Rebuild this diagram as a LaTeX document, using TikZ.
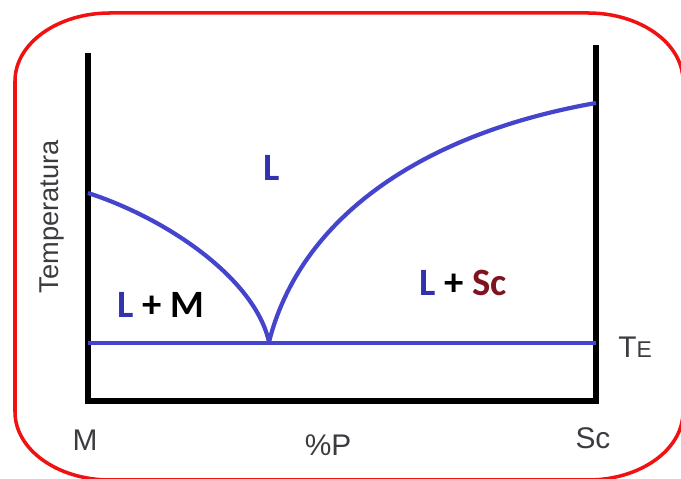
\documentclass[tikz,border=0pt]{standalone}
\usepackage{fontspec}
\setmainfont{Liberation Sans}
\newfontfamily\calibrifont{Carlito}
\usepackage{tikz}
\usetikzlibrary{positioning}
\definecolor{framered}{RGB}{240,18,18}
\definecolor{curveblue}{RGB}{68,68,205}
\definecolor{phaseblue}{RGB}{50,50,175}
\definecolor{solidred}{RGB}{128,20,30}
\definecolor{axisgray}{RGB}{60,60,64}
\tikzset{
  axis/.style={line width=3.2pt,draw=black,line join=miter},
  phaseline/.style={line width=2.4pt,draw=curveblue},
  frame/.style={line width=2pt,draw=framered},
  axlab/.style={font=\fontsize{17}{20}\selectfont,text=axisgray,inner sep=0pt},
  phaselab/.style={font=\calibrifont\bfseries\fontsize{22}{26}\selectfont,
    inner sep=0pt}
}

\begin{document}
\begin{tikzpicture}[x=0.02cm,y=0.02cm]
  \useasboundingbox (0,0) rectangle (681,479);
  % rounded frame, cut by the page at right and bottom
  \draw[frame] (110,466) -- (588,466)
    arc[start angle=90,end angle=0,x radius=95,y radius=68] -- (683,67)
    arc[start angle=0,end angle=-90,x radius=95,y radius=68] -- (110,-1)
    arc[start angle=270,end angle=180,x radius=95,y radius=68] -- (15,398)
    arc[start angle=180,end angle=90,x radius=95,y radius=68] -- cycle;
  % axes
  \coordinate (mtop) at (88,426);
  \coordinate (mbot) at (88,78);
  \coordinate (scbot) at (596,78);
  \coordinate (sctop) at (596,434);
  \draw[axis] (mtop) -- (mbot) -- (scbot) -- (sctop);
  % phase lines
  \coordinate (tm) at (88,286);
  \coordinate (tsc) at (596,376);
  \coordinate (eut) at (269,137);
  \coordinate (tel) at (88,136);
  \coordinate (ter) at (596,136);
  \draw[phaseline] (tel) -- (ter);
  \draw[phaseline] (tm) .. controls (168,260) and (255,200) .. (eut);
  \draw[phaseline] (eut) .. controls (300,260) and (420,345) .. (tsc);
  % labels
  \node[axlab,rotate=90,font=\fontsize{15.5}{18}\selectfont] (temp) at (52,262) {Temperatura};
  \node[phaselab,text=phaseblue] (liq) at (272,311) {L};
  \node[phaselab] (lm) at (161,174) {{\color{phaseblue}L} + M};
  \node[phaselab] (lsc) at (463,196) {{\color{phaseblue}L} + {\color{solidred}Sc}};
  \node[axlab] (te) at (635,132) {T{\fontsize{13}{15}\selectfont E}};
  \node[axlab] (m) at (85,39) {M};
  \node[axlab] (pp) at (328,34) {\%P};
  \node[axlab] (sc) at (593,41) {Sc};
\end{tikzpicture}
\end{document}
